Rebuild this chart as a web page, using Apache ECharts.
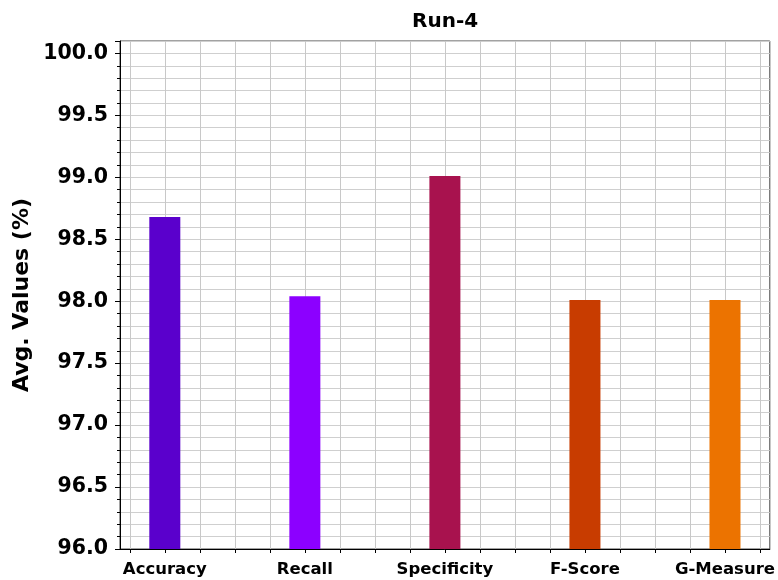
<!DOCTYPE html>
<html>
<head>
<meta charset="utf-8">
<script src="https://cdn.jsdelivr.net/npm/echarts@6/dist/echarts.min.js"></script>
<style>
  html, body { margin: 0; padding: 0; background: #fff; }
  #chart { width: 778px; height: 580px; }
</style>
</head>
<body>
<div id="chart"></div>
<script>
// chart data
const categories = ["Accuracy", "Recall", "Specificity", "F-Score", "G-Measure"];
const avgValues = [98.68, 98.04, 99.01, 98.01, 98.01];
const barColors = ["#5a00cc", "#8c00ff", "#a8124e", "#c83c00", "#ec7300"];
const xGridLines = [-0.25, 0, 0.25, 0.5, 0.75, 1, 1.25, 1.5, 1.75, 2, 2.25, 2.5, 2.75, 3, 3.25, 3.5, 3.75, 4, 4.25];
const xTickPositions = [0, 1, 2, 3, 4];

const font = "DejaVu Sans";
const chart = echarts.init(document.getElementById("chart"));

chart.setOption({
  animation: false,
  title: {
    text: "Run-4",
    left: 407,
    top: 7,
    textStyle: { fontFamily: font, fontWeight: "bold", fontSize: 20, color: "#000" },
  },
  grid: {
    left: 120, right: 8, top: 41, bottom: 31,
    show: true, borderColor: "#444", borderWidth: 1,
  },
  xAxis: {
    type: "value",
    min: -0.32,
    max: 4.32,
    splitLine: { show: false },
    axisLine: { onZero: false, lineStyle: { color: "#000" } },
    axisTick: { customValues: xGridLines, length: 4, lineStyle: { color: "#000" } },
    axisLabel: {
      customValues: xTickPositions,
      formatter: (v) => categories[Math.round(v)],
      fontFamily: font, fontWeight: "bold", fontSize: 16.5, color: "#000", margin: 12,
    },
  },
  yAxis: [
    {
      type: "value",
      min: 96,
      max: 100.1,
      interval: 0.1,
      axisLine: { show: true, onZero: false, lineStyle: { color: "#000" } },
      axisTick: { length: 3, lineStyle: { color: "#000" } },
      axisLabel: { show: false },
      splitLine: { show: true, lineStyle: { color: "#cfcfcf", width: 1 } },
      name: "Avg. Values (%)",
      nameLocation: "middle",
      nameGap: 87,
      nameTextStyle: { fontFamily: font, fontWeight: "bold", fontSize: 22, color: "#000" },
    },
    {
      type: "value",
      position: "left",
      min: 96,
      max: 100.1,
      interval: 0.5,
      axisLine: { show: false, onZero: false },
      axisTick: { length: 5, lineStyle: { color: "#000" } },
      splitLine: { show: false },
      axisLabel: {
        formatter: (v) => (Math.abs(v * 2 - Math.round(v * 2)) < 1e-6 ? v.toFixed(1) : ""),
        fontFamily: font, fontWeight: "bold", fontSize: 20.5, color: "#000", margin: 12,
      },
    },
  ],
  series: [
    {
      type: "bar",
      yAxisIndex: 0,
      barWidth: 31,
      data: categories.map((c, i) => ({
        value: [i, avgValues[i]],
        itemStyle: { color: barColors[i] },
      })),
      markLine: {
        silent: true,
        symbol: "none",
        z: 1,
        label: { show: false },
        lineStyle: { color: "#c8c8c8", type: "solid", width: 1 },
        data: xGridLines.map((x) => ({ xAxis: x })),
      },
    },
  ],
});
</script>
</body>
</html>
